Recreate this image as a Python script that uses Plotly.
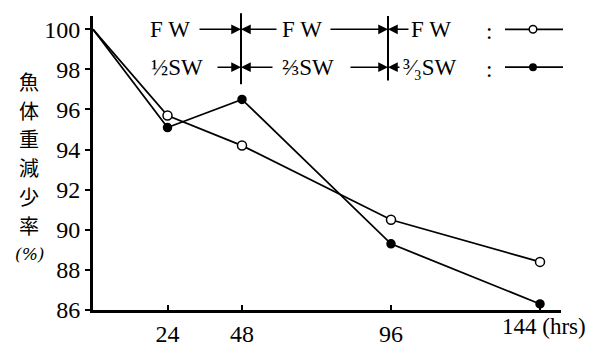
import plotly.graph_objects as go

# ---- data ----
hours = [0, 24, 48, 96, 144]
fw_values = [100, 95.7, 94.2, 90.5, 88.4]      # open circles
sw_values = [100, 95.1, 96.5, 89.3, 86.3]      # filled circles
x_ticks = [24, 48, 96, 144]
x_ticktext = ["24", "48", "96", "144"]
x_unit = "(hrs)"
y_ticks = [86, 88, 90, 92, 94, 96, 98, 100]
y_title_chars = ["魚", "体", "重", "減", "少", "率", "(%)"]

W, H = 598, 347
L, R, T, B = 85, 553, 8, 318
SERIF = "Liberation Serif"
DX = -9   # annotation text offset compensation


def px(x):
    return (x - L) / (R - L)


def py(y):
    return (B - y) / (B - T)


fig = go.Figure()
for vals, filled in [(fw_values, False), (sw_values, True)]:
    fig.add_trace(go.Scatter(x=hours, y=vals, mode="lines",
                             line=dict(color="black", width=1.8),
                             showlegend=False, hoverinfo="skip"))
    fig.add_trace(go.Scatter(
        x=hours[1:], y=vals[1:], mode="markers", showlegend=False,
        marker=dict(size=8 if filled else 9,
                    color="black" if filled else "white",
                    line=dict(color="black", width=1.5)),
        cliponaxis=False))

annotations = []
shapes = []

# y-axis title (vertical characters)
for i, ch in enumerate(y_title_chars):
    last = i == len(y_title_chars) - 1
    annotations.append(dict(
        text=f"<i>{ch}</i>" if last else ch,
        xref="paper", yref="paper", x=px(21), y=py(77 + 30.3 * i),
        showarrow=False, xanchor="center", yanchor="middle",
        font=dict(family="Noto Sans CJK JP" if not last else "DejaVu Serif",
                  size=20 if not last else 17, color="black")))

# last x tick label with unit, placed like the reference
annotations.append(dict(text=x_ticktext[-1] + " " + x_unit,
                        xref="paper", yref="paper",
                        x=px(501 + DX), y=py(335), showarrow=False,
                        xanchor="left", yanchor="middle",
                        font=dict(family=SERIF, size=23, color="black")))
x_ticktext_shown = x_ticktext[:-1] + [""]


def text(t, x_left, y):
    annotations.append(dict(text=t, xref="paper", yref="paper",
                            x=px(x_left + DX), y=py(y), showarrow=False,
                            xanchor="left", yanchor="middle", borderpad=0,
                            font=dict(family=SERIF, size=23, color="black")))


def arrow(x_from, x_to, y):
    annotations.append(dict(text="", xref="paper", yref="paper",
                            x=px(x_to), y=py(y), ax=x_from - x_to, ay=0,
                            axref="pixel", ayref="pixel", showarrow=True,
                            arrowhead=2, arrowsize=1.3, arrowwidth=1.5,
                            arrowcolor="black", standoff=0))


def vline(x, y0, y1):
    shapes.append(dict(type="line", xref="paper", yref="paper",
                       x0=px(x), x1=px(x), y0=py(y0), y1=py(y1),
                       line=dict(color="black", width=2)))


def hline(x0, x1, y):
    shapes.append(dict(type="line", xref="paper", yref="paper",
                       x0=px(x0), x1=px(x1), y0=py(y), y1=py(y),
                       line=dict(color="black", width=1.8)))


def dot(x, y, filled):
    r = 3.2 if filled else 3.8
    shapes.append(dict(type="circle", xref="paper", yref="paper",
                       xsizemode="pixel", ysizemode="pixel",
                       xanchor=px(x), yanchor=py(y),
                       x0=-r, x1=r, y0=-r, y1=r,
                       fillcolor="black" if filled else "white",
                       line=dict(color="black", width=1.5)))


r1, r2 = 22, 62
vline(233, 5, 80)
vline(380, 8, 76)

# row 1
text("F W", 150, r1)
arrow(190, 233, r1)
arrow(270, 233, r1)
text("F W", 282, r1)
arrow(321, 380, r1)
arrow(402, 380, r1)
text("F W", 411, r1)
text(":", 486, r1 + 2)
hline(497, 555, r1)
dot(525, r1, False)

# row 2
text("½SW", 151, r2)
arrow(208, 233, r2)
arrow(266, 233, r2)
text("⅔SW", 282, r2)
arrow(341, 380, r2)
arrow(393, 380, r2)
text("³⁄₃SW", 403, r2)
text(":", 486, r2 + 2)
hline(497, 555, r2)
dot(525, r2, True)

xmax = (R - L) * 144 / (532 - L)
ymax = 86 + (B - T) * 14 / (B - 22)

fig.update_layout(
    width=W, height=H,
    margin=dict(l=L, r=W - R, t=T, b=H - B),
    paper_bgcolor="white", plot_bgcolor="white",
    showlegend=False,
    annotations=annotations, shapes=shapes,
    xaxis=dict(range=[0, xmax], tickvals=x_ticks, ticktext=x_ticktext_shown,
               showline=True, linecolor="black", linewidth=3,
               ticks="inside", ticklen=5, tickwidth=1.5, tickcolor="black",
               showgrid=False, zeroline=False, fixedrange=True,
               tickfont=dict(family=SERIF, size=24, color="black")),
    yaxis=dict(range=[86, ymax], tickvals=y_ticks,
               showline=True, linecolor="black", linewidth=3,
               ticks="outside", ticklen=5, tickwidth=1.5, tickcolor="black",
               showgrid=False, zeroline=False, fixedrange=True,
               tickfont=dict(family=SERIF, size=24, color="black")),
)

fig.write_html("out.html")
